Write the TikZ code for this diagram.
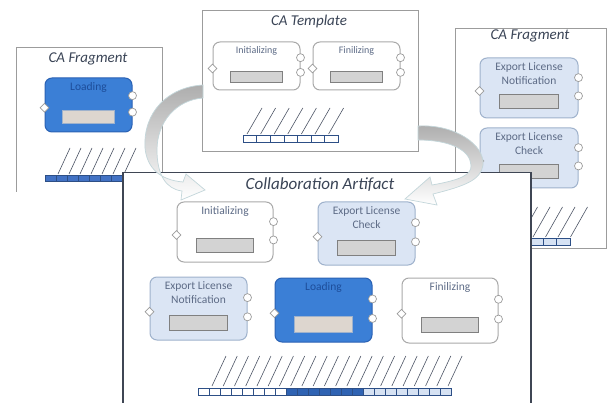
\documentclass[tikz,border=0pt]{standalone}
\usepackage{fontspec}
\setmainfont{Carlito}
\usepackage{xcolor}
\usepackage{tikz}
\usetikzlibrary{shapes.geometric, calc, positioning}

\definecolor{framegray}{HTML}{9C9C9C}
\definecolor{mainedge}{HTML}{3F4654}
\definecolor{titlecol}{HTML}{3A4456}
\definecolor{lblcol}{HTML}{5D6B86}
\definecolor{paleFill}{HTML}{DBE5F4}
\definecolor{paleDraw}{HTML}{9FB2CC}
\definecolor{darkFill}{HTML}{3B7FD6}
\definecolor{darkDraw}{HTML}{2B62B4}
\definecolor{darkText}{HTML}{1D4D9A}
\definecolor{plainDraw}{HTML}{A9A9A9}
\definecolor{slotFill}{HTML}{D3D3D3}
\definecolor{slotDraw}{HTML}{808080}
\definecolor{warmSlot}{HTML}{DDD6CF}
\definecolor{hatchcol}{HTML}{4D5566}
\definecolor{cellDraw}{HTML}{2D4F86}
\definecolor{cellDark}{HTML}{2F63B3}
\definecolor{cellMid}{HTML}{4272C4}
\definecolor{cellPale}{HTML}{D6E2F3}
\definecolor{arrowEdge}{HTML}{C3D6DA}

% activity box: body, slot, one in-port, two out-ports, label
\newcommand{\compbox}[7]{%
  \node[#2, minimum width=#5, minimum height=#6] (#1) at (#3,#4) {};
  \node[slot, #2 slot, minimum width=0.6*#5, minimum height=0.24*#6] (#1-slot)
    at ($(#1.north)!0.72!(#1.south)$) {};
  \node[inport] (#1-in) at ($(#1.north west)!0.55!(#1.south west)$) {};
  \node[outport] (#1-a) at ($(#1.north east)!0.33!(#1.south east)$) {};
  \node[outport] (#1-b) at ($(#1.north east)!0.63!(#1.south east)$) {};
  \node[boxlabel, below=4pt of #1.north] (#1-lbl) {#7};
}

\begin{document}
\begin{tikzpicture}[
  x=1pt, y=-1pt,
  fragframe/.style={rectangle, draw=framegray, line width=1pt, fill=white, inner sep=0pt},
  mainframe/.style={rectangle, draw=mainedge, line width=1.5pt, fill=white, inner sep=0pt},
  title/.style={font=\fontsize{15}{17}\selectfont\itshape, text=titlecol, inner sep=1pt},
  plainbox/.style={rectangle, rounded corners=7pt, draw=plainDraw, line width=1pt, fill=white},
  palebox/.style={rectangle, rounded corners=7pt, draw=paleDraw, line width=1pt, fill=paleFill},
  darkbox/.style={rectangle, rounded corners=7pt, draw=darkDraw, line width=1pt, fill=darkFill},
  slot/.style={rectangle, draw=slotDraw, line width=0.7pt, fill=slotFill, inner sep=0pt},
  plainbox slot/.style={},
  palebox slot/.style={},
  darkbox slot/.style={fill=warmSlot, draw=paleDraw},
  inport/.style={diamond, draw=framegray, fill=white, line width=0.7pt, inner sep=0pt, minimum size=9pt},
  outport/.style={circle, draw=framegray, fill=white, line width=0.7pt, inner sep=0pt, minimum size=8pt},
  boxlabel/.style={font=\fontsize{11.5}{13.5}\selectfont, text=lblcol, align=center, inner sep=1pt},
  cell/.style={draw=cellDraw, line width=0.6pt},
  hatch/.style={draw=hatchcol, line width=0.6pt},
  flowarrow/.style={draw=arrowEdge, line width=0.7pt, top color=black!32, middle color=black!18, bottom color=white},
]
  \clip (0,0) rectangle (607,403);
  \fill[white] (0,0) rectangle (607,403);

  % left fragment
  \draw[framegray, line width=1pt] (16,192) |- (162,48) -- (162,180);
  \node[title] (fragL-title) at (88,59) {CA Fragment};
  \compbox{fragLLoad}{darkbox}{88.5}{105}{87}{54}{\textcolor{darkText}{Loading}}
  \foreach \i in {0,...,6}
    \draw[hatch] ({58+11*\i},174) -- +(12,-26);
  \foreach \i in {0,...,6}
    \draw[cell, fill=cellMid] ({45+11*\i},175) rectangle +(11,6);

  % right fragment
  \node[fragframe, minimum width=151, minimum height=220, anchor=north west] (fragR) at (455,28) {};
  \node[title] (fragR-title) at (530,36) {CA Fragment};
  \compbox{fragRNote}{palebox}{529}{88}{98}{60}{Export License\\Notification}
  \compbox{fragRCheck}{palebox}{529}{158}{98}{60}{Export License\\Check}
  \foreach \i in {0,...,7}
    \draw[hatch] ({483+12.5*\i},237) -- +(17,-30);
  \foreach \i in {0,...,5}
    \draw[cell, fill=cellPale] ({489+13.5*\i},238) rectangle +(13.5,7);

  % template
  \node[fragframe, minimum width=216, minimum height=141, anchor=north west] (tmpl) at (202,10) {};
  \node[title] (tmpl-title) at (309,22) {CA Template};
  \begin{scope}[boxlabel/.append style={font=\fontsize{10}{12}\selectfont}]
    \compbox{tmplInit}{plainbox}{256.5}{66}{87}{48}{Initializing}
    \compbox{tmplFin}{plainbox}{356.5}{66}{87}{48}{Finilizing}
  \end{scope}
  \foreach \i in {0,...,6}
    \draw[hatch] ({247+13.6*\i},134) -- +(15,-26);
  \foreach \i in {0,...,6}
    \draw[cell, fill=white] ({243+13.6*\i},135) rectangle +(13.6,7);

  % collaboration artifact
  \node[mainframe, minimum width=408, minimum height=250, anchor=north west] (collab) at (122,172) {};
  \node[title, font=\fontsize{17}{19}\selectfont\itshape] (collab-title) at (320,185) {Collaboration Artifact};
  \compbox{mInit}{plainbox}{225}{232}{96}{60}{Initializing}
  \compbox{mCheck}{palebox}{366.5}{233.5}{97}{63}{Export License\\Check}
  \compbox{mNote}{palebox}{198.5}{308.5}{97}{63}{Export License\\Notification}
  \compbox{mLoad}{darkbox}{323.5}{310}{97}{64}{\textcolor{darkText}{Loading}}
  \compbox{mFin}{plainbox}{450}{310.5}{96}{65}{Finilizing}
  \foreach \i in {0,...,21}
    \draw[hatch] ({212+11.24*\i},386) -- +(14,-30);
  \foreach \i in {0,...,7}
    \draw[cell, fill=white] ({198+11*\i},388) rectangle +(11,7);
  \foreach \i in {8,...,14}
    \draw[cell, fill=cellDark] ({198+11*\i},388) rectangle +(11,7);
  \foreach \i in {15,...,22}
    \draw[cell, fill=cellPale] ({198+11*\i},388) rectangle +(11,7);

  % merge arrows
  \path[flowarrow] (203,85) .. controls (168,87) and (143,112) .. (145,148)
    .. controls (147,168) and (160,180) .. (183,182)
    -- (186,174) -- (205,190) -- (181,200) -- (182,191)
    .. controls (166,189) and (157,175) .. (157,150)
    .. controls (157,122) and (176,100) .. (203,98) -- cycle;
  \path[flowarrow] (418,126) .. controls (455,124) and (485,145) .. (483,165)
    .. controls (481,180) and (465,186) .. (433,194)
    -- (437,205) -- (405,199) -- (430,177) -- (432,185)
    .. controls (460,180) and (472,175) .. (471,165)
    .. controls (470,150) and (450,140) .. (418,140) -- cycle;
\end{tikzpicture}
\end{document}
